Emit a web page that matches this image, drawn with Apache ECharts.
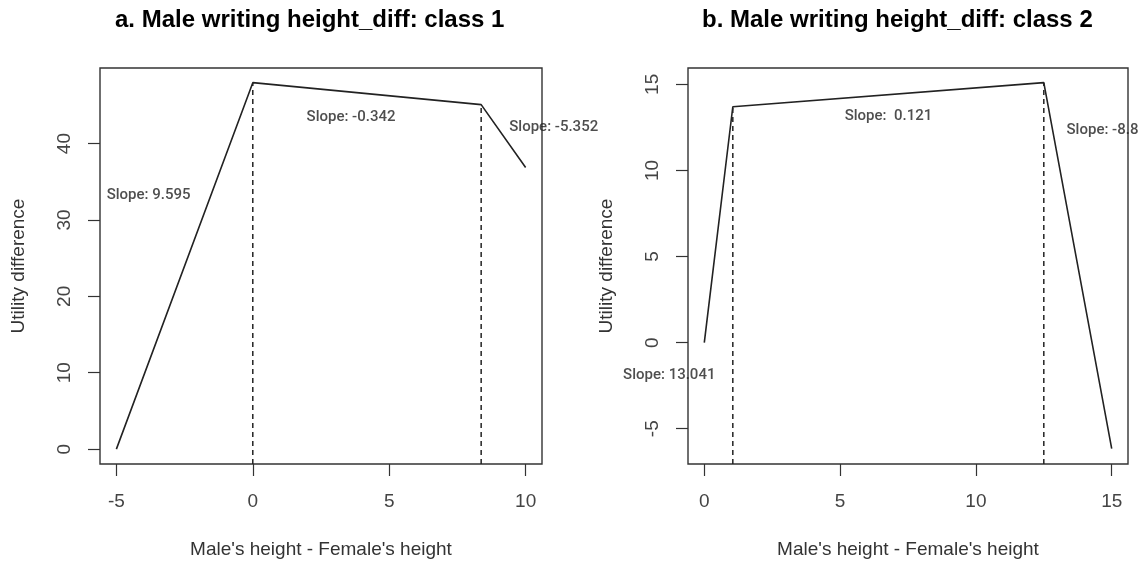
<!DOCTYPE html>
<html>
<head>
<meta charset="utf-8">
<script src="https://cdn.jsdelivr.net/npm/echarts@6/dist/echarts.min.js"></script>
<style>html,body{margin:0;padding:0;background:#fff;}#c{width:1147px;height:561px;}</style>
</head>
<body>
<div id="c"></div>
<script>
// ---- data ----
var titles = ['a. Male writing height_diff: class 1', 'b. Male writing height_diff: class 2'];
var xTitle = "Male's height - Female's height";
var yTitle = 'Utility difference';

var xA = [-5, 0, 8.37, 10];
var yA = [0, 47.98, 45.1, 36.87];
var breakIdxA = [1, 2];
var slopeTextA = ['Slope: 9.595', 'Slope: -0.342', 'Slope: -5.352'];
var slopeXA = [-3.82, 3.6, 11.03];
var slopeYA = [33.3, 43.4, 42.2];
var xTicksA = [-5, 0, 5, 10];
var yTicksA = [0, 10, 20, 30, 40];
var xRangeA = [-5.6, 10.6];
var yRangeA = [-1.95, 49.9];

var xB = [0, 1.05, 12.5, 15];
var yB = [0, 13.7, 15.1, -6.16];
var breakIdxB = [1, 2];
var slopeTextB = ['Slope: 13.041', 'Slope:  0.121', 'Slope: -8.8'];
var slopeXB = [-1.29, 6.78, 14.66];
var slopeYB = [-1.88, 13.14, 12.36];
var xTicksB = [0, 5, 10, 15];
var yTicksB = [-5, 0, 5, 10, 15];
var xRangeB = [-0.6, 15.6];
var yRangeB = [-7.05, 15.95];

// ---- build ----
var FONT = 'Liberation Sans';
function zip(xs, ys) { return xs.map(function (x, i) { return [x, ys[i]]; }); }

function xAxisCfg(gi, range, ticks) {
  return {
    type: 'value', gridIndex: gi, min: range[0], max: range[1],
    splitLine: { show: false },
    axisLine: { show: false, onZero: false },
    axisTick: { show: true, length: 12, customValues: ticks, lineStyle: { color: '#333', width: 1.2 } },
    axisLabel: { customValues: ticks, margin: 28, color: '#444', fontSize: 19, fontFamily: FONT },
    name: xTitle, nameLocation: 'middle', nameGap: 76,
    nameTextStyle: { color: '#333', fontSize: 19, fontFamily: FONT }
  };
}
function yAxisCfg(gi, range, ticks) {
  return {
    type: 'value', gridIndex: gi, min: range[0], max: range[1],
    splitLine: { show: false },
    axisLine: { show: false, onZero: false },
    axisTick: { show: true, length: 12, customValues: ticks, lineStyle: { color: '#333', width: 1.2 } },
    axisLabel: { customValues: ticks, margin: 26, rotate: 90, color: '#444', fontSize: 19, fontFamily: FONT },
    name: yTitle, nameLocation: 'middle', nameGap: 72,
    nameTextStyle: { color: '#333', fontSize: 19, fontFamily: FONT }
  };
}
function panelSeries(gi, xs, ys, brk, texts, tx, ty, yMin) {
  var s = [];
  s.push({
    type: 'line', xAxisIndex: gi, yAxisIndex: gi, data: zip(xs, ys),
    symbol: 'none', lineStyle: { color: '#222', width: 1.6 }, silent: true, z: 3
  });
  brk.forEach(function (bi) {
    s.push({
      type: 'line', xAxisIndex: gi, yAxisIndex: gi,
      data: [[xs[bi], yMin], [xs[bi], ys[bi]]],
      symbol: 'none', lineStyle: { color: '#222', width: 1.5, type: [5, 4] }, silent: true, z: 2
    });
  });
  s.push({
    type: 'scatter', xAxisIndex: gi, yAxisIndex: gi, clip: false,
    symbolSize: 0, silent: true, z: 5,
    data: texts.map(function (t, i) { return { value: [tx[i], ty[i]], name: t }; }),
    label: {
      show: true, position: 'inside', formatter: function (p) { return p.name; },
      fontFamily: 'Roboto', fontWeight: 500, fontSize: 15, color: '#222'
    }
  });
  return s;
}

var gridBase = { show: true, borderColor: '#333', borderWidth: 1.4, backgroundColor: 'transparent', containLabel: false, outerBoundsMode: 'none' };
var option = {
  backgroundColor: '#fff',
  animation: false,
  title: [
    { text: titles[0], left: 110, top: 3, textStyle: { fontFamily: FONT, fontWeight: 'bold', fontSize: 24, color: '#000' } },
    { text: titles[1], left: 697, top: 3, textStyle: { fontFamily: FONT, fontWeight: 'bold', fontSize: 24, color: '#000' } }
  ],
  grid: [
    Object.assign({ left: 100, top: 68, width: 442, height: 396 }, gridBase),
    Object.assign({ left: 688, top: 68, width: 440, height: 396 }, gridBase)
  ],
  xAxis: [xAxisCfg(0, xRangeA, xTicksA), xAxisCfg(1, xRangeB, xTicksB)],
  yAxis: [yAxisCfg(0, yRangeA, yTicksA), yAxisCfg(1, yRangeB, yTicksB)],
  series: panelSeries(0, xA, yA, breakIdxA, slopeTextA, slopeXA, slopeYA, yRangeA[0])
    .concat(panelSeries(1, xB, yB, breakIdxB, slopeTextB, slopeXB, slopeYB, yRangeB[0]))
};

var chart = echarts.init(document.getElementById('c'), null, { renderer: 'canvas' });
chart.setOption(option);
</script>
</body>
</html>
